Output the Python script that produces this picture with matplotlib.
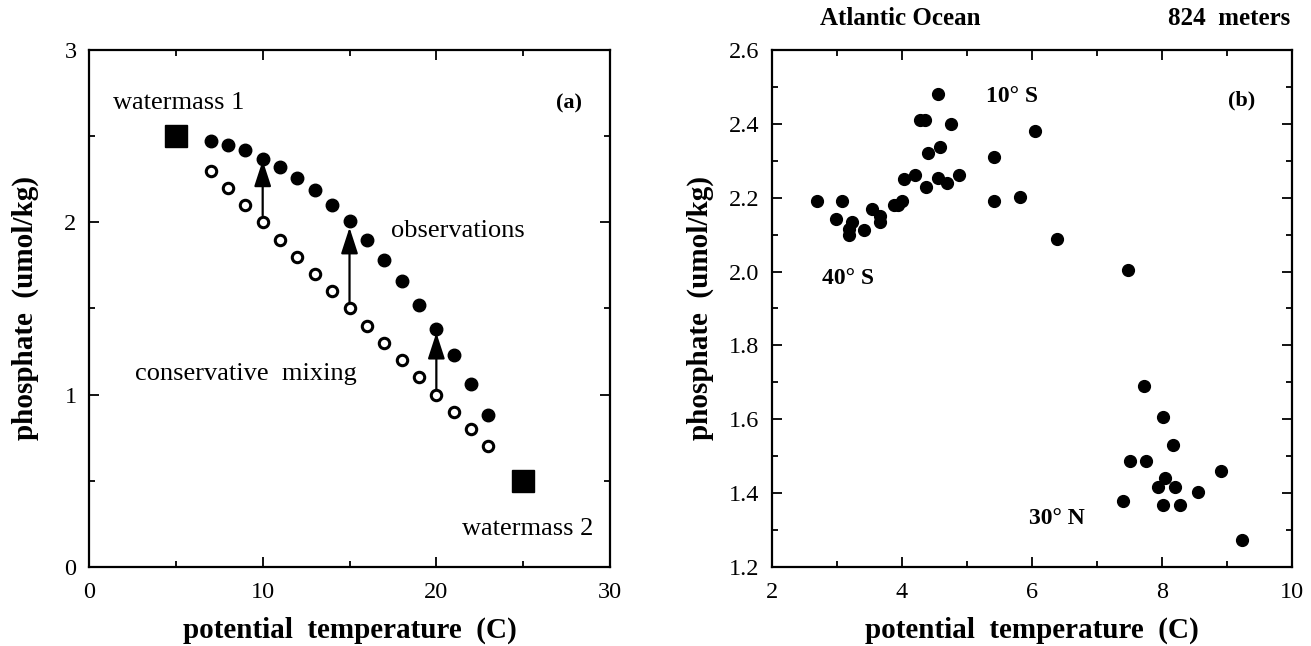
import matplotlib.pyplot as plt
from matplotlib.ticker import MultipleLocator

plt.rcParams['font.family'] = ['Liberation Serif', 'DejaVu Serif']

# (a) idealised mixing between two water masses
temp_a = [7, 8, 9, 10, 11, 12, 13, 14, 15, 16, 17, 18, 19, 20, 21, 22, 23]
mix_phos = [2.3, 2.2, 2.1, 2.0, 1.9, 1.8, 1.7, 1.6, 1.5, 1.4, 1.3, 1.2, 1.1, 1.0, 0.9, 0.8, 0.7]
obs_phos = [2.47, 2.45, 2.42, 2.37, 2.32, 2.26, 2.19, 2.10, 2.01, 1.90, 1.78,
            1.66, 1.52, 1.38, 1.23, 1.06, 0.88]
end_temp = [5, 25]
end_phos = [2.5, 0.5]
arrow_temp = [10, 15, 20]
arrow_from = [2.04, 1.53, 1.03]
arrow_to = [2.36, 1.97, 1.36]

# (b) Atlantic Ocean, 824 m
temp_b = [2.69, 2.98, 3.07, 3.23, 3.19, 3.19, 3.41, 3.54, 3.66, 3.66, 3.88, 3.94,
          4.00, 4.03, 4.20, 4.27, 4.35, 4.37, 4.40, 4.55, 4.55, 4.59, 4.69, 4.75,
          4.87, 5.41, 5.41, 5.81, 6.05, 6.39, 7.47, 7.73, 7.51, 7.76, 8.02, 8.17,
          7.40, 7.94, 8.04, 8.20, 8.02, 8.28, 8.56, 8.91, 9.23]
phos_b = [2.19, 2.143, 2.19, 2.133, 2.116, 2.10, 2.112, 2.17, 2.151, 2.133, 2.18, 2.18,
          2.19, 2.25, 2.262, 2.41, 2.41, 2.23, 2.32, 2.48, 2.253, 2.337, 2.24, 2.40,
          2.262, 2.31, 2.19, 2.203, 2.38, 2.089, 2.003, 1.69, 1.487, 1.487, 1.607, 1.53,
          1.38, 1.417, 1.44, 1.417, 1.369, 1.369, 1.403, 1.46, 1.274]

fig = plt.figure(figsize=(13.11, 6.46), dpi=100)
ax1 = fig.add_axes([0.0679, 0.1223, 0.3974, 0.8003])
ax2 = fig.add_axes([0.5889, 0.1223, 0.3966, 0.8003])

for ax in (ax1, ax2):
    for s in ax.spines.values():
        s.set_linewidth(1.6)
    ax.tick_params(which='both', direction='in', top=True, right=True,
                   width=1.3, labelsize=17.5)
    ax.tick_params(which='major', length=7)
    ax.tick_params(which='minor', length=4.5)
    ax.tick_params(axis='x', pad=11)
    ax.tick_params(axis='y', pad=9)

# ---- panel (a)
ax1.plot(temp_a, mix_phos, 'o', ms=7.5, mfc='white', mec='black', mew=2.2, ls='none')
ax1.plot(temp_a, obs_phos, 'o', ms=9, color='black', ls='none')
ax1.plot(end_temp, end_phos, 's', ms=15.5, color='black', ls='none')
for t, y0, y1 in zip(arrow_temp, arrow_from, arrow_to):
    ax1.annotate('', xy=(t, y1), xytext=(t, y0),
                 arrowprops=dict(arrowstyle='-|>,head_length=0.8,head_width=0.26',
                                 mutation_scale=20, lw=1.6, color='black',
                                 shrinkA=0, shrinkB=0))

ax1.set_xlim(0, 30)
ax1.set_ylim(0, 3)
ax1.xaxis.set_major_locator(MultipleLocator(10))
ax1.xaxis.set_minor_locator(MultipleLocator(5))
ax1.yaxis.set_major_locator(MultipleLocator(1))
ax1.yaxis.set_minor_locator(MultipleLocator(0.5))

ax1.text(1.38, 2.69, 'watermass 1', fontsize=19, va='center')
ax1.text(28.4, 2.69, '(a)', fontsize=16, fontweight='bold', ha='right', va='center')
ax1.text(17.4, 1.95, 'observations', fontsize=19, va='center')
ax1.text(2.65, 1.12, 'conservative  mixing', fontsize=19, va='center')
ax1.text(21.5, 0.22, 'watermass 2', fontsize=19, va='center')

# ---- panel (b)
ax2.plot(temp_b, phos_b, 'o', ms=8.5, color='black', ls='none')
ax2.set_xlim(2, 10)
ax2.set_ylim(1.2, 2.6)
ax2.xaxis.set_major_locator(MultipleLocator(2))
ax2.xaxis.set_minor_locator(MultipleLocator(1))
ax2.yaxis.set_major_locator(MultipleLocator(0.2))
ax2.yaxis.set_minor_locator(MultipleLocator(0.1))
ax2.yaxis.set_major_formatter(plt.FormatStrFormatter('%.1f'))

ax2.text(5.29, 2.474, '10° S', fontsize=17, fontweight='bold', va='center')
ax2.text(9.43, 2.463, '(b)', fontsize=16, fontweight='bold', ha='right', va='center')
ax2.text(2.775, 1.98, '40° S', fontsize=17, fontweight='bold', va='center')
ax2.text(5.96, 1.33, '30° N', fontsize=17, fontweight='bold', va='center')
ax2.text(0.092, 1.06, 'Atlantic Ocean', transform=ax2.transAxes, fontsize=18,
         fontweight='bold', va='center')
ax2.text(0.996, 1.06, '824  meters', transform=ax2.transAxes, fontsize=18,
         fontweight='bold', va='center', ha='right')

for ax, ylx in ((ax1, -0.123), (ax2, -0.138)):
    ax.set_xlabel('potential  temperature  (C)', fontsize=21, fontweight='bold', va='center')
    ax.set_ylabel('phosphate  (umol/kg)', fontsize=21, fontweight='bold', va='center')
    ax.xaxis.set_label_coords(0.5, -0.122)
    ax.yaxis.set_label_coords(ylx, 0.5)

fig.savefig('out.png', dpi=100)
